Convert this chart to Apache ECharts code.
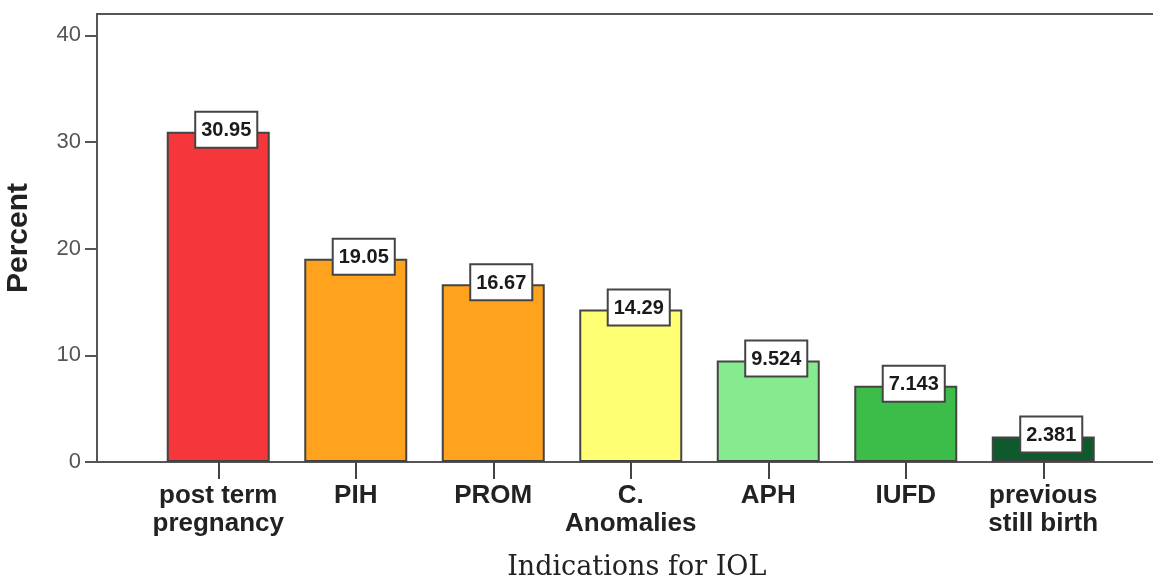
<!DOCTYPE html>
<html>
<head>
<meta charset="utf-8">
<script src="https://cdn.jsdelivr.net/npm/echarts@6/dist/echarts.min.js"></script>
<style>html,body{margin:0;padding:0;background:#fff;}#c{width:1153px;height:579px;}</style>
</head>
<body>
<div id="c"></div>
<script>
var categories = ['post term\npregnancy', 'PIH', 'PROM', 'C.\nAnomalies', 'APH', 'IUFD', 'previous\nstill birth'];
var percentValues = [30.95, 19.05, 16.67, 14.29, 9.524, 7.143, 2.381];
var barColors = ['#F5363A', '#FFA21E', '#FFA21E', '#FFFF74', '#86EA8E', '#3CBD4A', '#0F5A2C'];
var yTicks = [0, 10, 20, 30, 40];

var chart = echarts.init(document.getElementById('c'));
var option = {
  backgroundColor: '#ffffff',
  animation: false,
  grid: [
    {left: 97, right: -12, top: 14, bottom: 117, show: true, borderColor: '#555', borderWidth: 2, backgroundColor: 'transparent', outerBoundsMode: 'none', containLabel: false},
    {left: 149.5, right: 41, top: 14, bottom: 117, outerBoundsMode: 'none', containLabel: false}
  ],
  xAxis: [
    {gridIndex: 0, type: 'value', show: false, min: 0, max: 1},
    {
      gridIndex: 1, type: 'category', data: categories,
      axisLine: {show: false},
      axisTick: {show: true, alignWithLabel: true, length: 17, lineStyle: {color: '#444', width: 2}},
      axisLabel: {fontFamily: 'Liberation Sans, Arial', fontWeight: 'bold', fontSize: 26, color: '#222', lineHeight: 28, margin: 20, interval: 0},
      name: 'Indications for IOL',
      nameLocation: 'middle',
      nameGap: 92,
      nameTextStyle: {fontFamily: 'DejaVu Serif, Liberation Serif, serif', fontSize: 27, color: '#222', padding: [0, 0, 0, 12]}
    }
  ],
  yAxis: [
    {
      gridIndex: 0, type: 'value', min: 0, max: 42, interval: 10,
      axisLine: {show: true, lineStyle: {color: '#555', width: 2}},
      axisTick: {show: true, length: 12, lineStyle: {color: '#555', width: 2}},
      axisLabel: {fontFamily: 'Liberation Sans, Arial', fontSize: 22, color: '#555', margin: 16, showMaxLabel: false,
        formatter: function (v) { return yTicks.indexOf(v) >= 0 ? String(v) : ''; }},
      splitLine: {show: false},
      name: 'Percent',
      nameLocation: 'middle',
      nameGap: 63,
      nameTextStyle: {fontFamily: 'Liberation Sans, Arial', fontWeight: 'bold', fontSize: 30, color: '#222'}
    },
    {gridIndex: 1, type: 'value', min: 0, max: 42, show: false}
  ],
  series: [{
    type: 'bar',
    xAxisIndex: 1, yAxisIndex: 1,
    barWidth: 103,
    data: percentValues.map(function (v, i) {
      return {value: v, itemStyle: {color: barColors[i]}};
    }),
    itemStyle: {borderColor: '#444', borderWidth: 2},
    label: {
      show: true, position: 'top', distance: -15, offset: [8, 0],
      formatter: function (p) { return String(p.value); },
      fontFamily: 'Liberation Sans, Arial', fontWeight: 'bold', fontSize: 20, color: '#1a1a1a',
      backgroundColor: '#fff', borderColor: '#444', borderWidth: 2,
      padding: [6, 5, 4, 5], lineHeight: 24
    }
  }]
};
chart.setOption(option);
</script>
</body>
</html>
